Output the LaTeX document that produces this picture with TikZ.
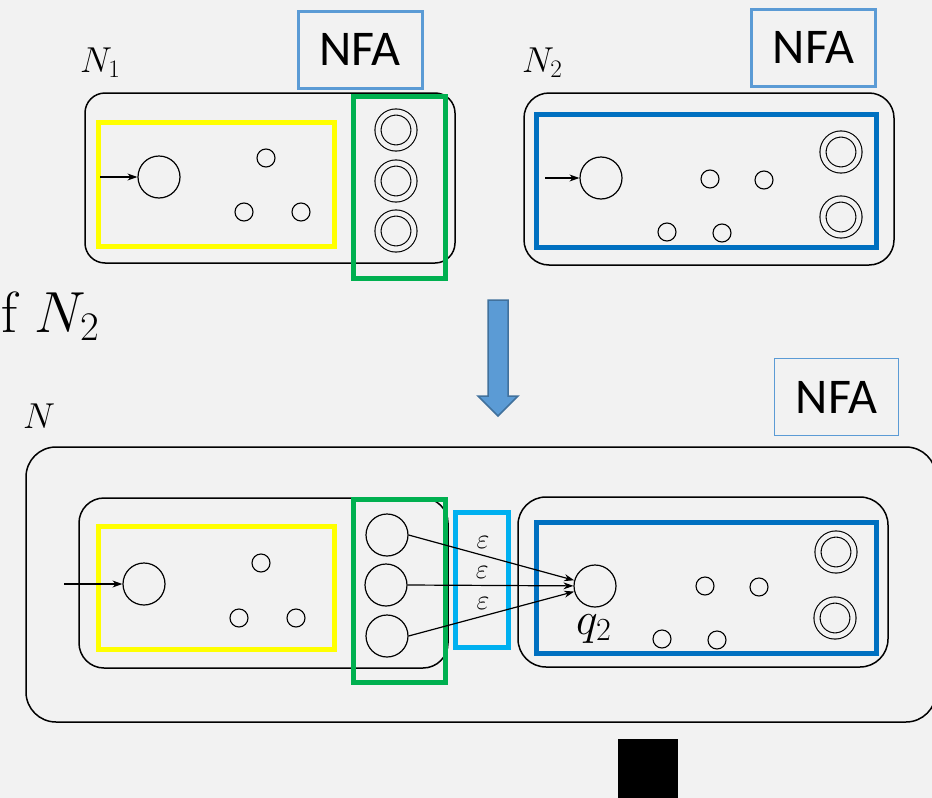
\RequirePackage{fix-cm}
\documentclass[tikz,border=0pt]{standalone}
\usepackage{fontspec}
\newfontfamily\nfafont{Carlito}
\usetikzlibrary{arrows.meta}

\definecolor{paper}{HTML}{F2F2F2}
\definecolor{nfablue}{HTML}{5B9BD5}
\definecolor{arrowedge}{HTML}{41719C}
\definecolor{partyellow}{HTML}{FFFF00}
\definecolor{partgreen}{HTML}{00B050}
\definecolor{partblue}{HTML}{0070C0}
\definecolor{partcyan}{HTML}{00B0F0}

\begin{document}
\begin{tikzpicture}[x=1pt,y=-1pt,
  every node/.style={inner sep=0pt},
  >={Stealth[length=10pt,width=7pt]}
]

\tikzstyle{bigstate}=[draw,circle,minimum size=42pt,line width=1.2pt]
\tikzstyle{smallstate}=[draw,circle,minimum size=18pt,line width=1.1pt]
\tikzstyle{finalstate}=[draw,circle,minimum size=36pt,line width=1.1pt,double=paper,double distance=5pt]
\tikzstyle{frame}=[draw,line width=1.5pt]
\tikzstyle{part}=[draw,line width=5pt]
\tikzstyle{nfabox}=[draw=nfablue,minimum width=124pt,minimum height=77pt,font=\nfafont\fontsize{50}{50}\selectfont]
\tikzstyle{trans}=[->,line width=1.2pt]
\tikzstyle{eps}=[pos=0.45,above=6pt,font=\fontsize{28}{28}\selectfont]

\useasboundingbox[fill=paper] (0,0) rectangle (932,798);

% ---- N1 ----
\node[anchor=base west,font=\fontsize{36}{36}\selectfont] (n1) at (80,72) {$N_1$};
\node[nfabox,line width=3pt] (nfa1) at (360,49.5) {NFA};
\draw[frame,rounded corners=20pt] (85,93) rectangle (455,263);
\draw[part,partyellow] (98,122) rectangle (334,246);
\node[bigstate] (s1) at (159,177) {};
\node[smallstate] (u1) at (266,158) {};
\node[smallstate] (u2) at (244,212) {};
\node[smallstate] (u3) at (301,212) {};
\node[finalstate] (f1) at (396,130) {};
\node[finalstate] (f2) at (396,181) {};
\node[finalstate] (f3) at (396,231) {};
\draw[part,partgreen] (353,96) rectangle (445,278);
\coordinate (in1) at (100,177);
\draw[trans] (in1) -- (s1);

% ---- N2 ----
\node[anchor=base west,font=\fontsize{36}{36}\selectfont] (n2) at (522,72) {$N_2$};
\node[nfabox,line width=3pt] (nfa2) at (813.5,47.5) {NFA};
\draw[frame,rounded corners=25pt] (524,93) rectangle (894,265);
\draw[part,partblue] (536,114) rectangle (876,247);
\node[bigstate] (s2) at (601,178) {};
\node[smallstate] (v1) at (710,179) {};
\node[smallstate] (v2) at (764,180) {};
\node[smallstate] (v3) at (667,232) {};
\node[smallstate] (v4) at (722,233) {};
\node[finalstate] (g1) at (841,152) {};
\node[finalstate] (g2) at (841,217) {};
\coordinate (in2) at (545,178);
\draw[trans] (in2) -- (s2);

\node[anchor=base west,font=\fontsize{58}{58}\selectfont] (of) at (1,332) {f $N_2$};

% down arrow
\draw[fill=nfablue,draw=arrowedge,line width=1.5pt]
  (488,300) -- (508,300) -- (508,396) -- (518,396) -- (498,416)
  -- (478,396) -- (488,396) -- cycle;

% ---- N ----
\node[anchor=base west,font=\fontsize{36}{36}\selectfont] (n) at (23,428) {$N$};
\node[nfabox,line width=1.5pt] (nfa3) at (836.5,397) {NFA};
\draw[frame,rounded corners=30pt] (26,447) rectangle (936,722);
\draw[frame,rounded corners=25pt] (79,498) rectangle (448,668);
\draw[frame,rounded corners=28pt] (518,497) rectangle (888,667);
\draw[part,partyellow] (98,526) rectangle (334,649);
\draw[part,partblue] (536,522) rectangle (876,653);
\draw[part,partcyan] (455,512) rectangle (508,647);

\node[bigstate] (s) at (144,584) {};
\node[smallstate] (w1) at (261,563) {};
\node[smallstate] (w2) at (239,618) {};
\node[smallstate] (w3) at (296,618) {};
\node[bigstate] (b1) at (387,535) {};
\node[bigstate] (b2) at (386,585) {};
\node[bigstate] (b3) at (387,636) {};
\draw[part,partgreen] (353,499) rectangle (445,682);

\node[bigstate] (q2) at (595,586) {};
\node[anchor=base west,font=\fontsize{46}{46}\selectfont] (q2lab) at (576,634) {$q_2$};
\node[smallstate] (x1) at (705,586) {};
\node[smallstate] (x2) at (759,587) {};
\node[smallstate] (x3) at (662,639) {};
\node[smallstate] (x4) at (717,640) {};
\node[finalstate] (h1) at (836,552) {};
\node[finalstate] (h2) at (835,618) {};

\coordinate (in3) at (64,584);
\draw[trans] (in3) -- (s);
\draw[trans] (b1.east) -- node[eps] {$\varepsilon$} (q2);
\draw[trans] (b2.east) -- node[eps] {$\varepsilon$} (q2);
\draw[trans] (b3.east) -- node[eps] {$\varepsilon$} (q2);

\fill (618,739) rectangle (678,800);
\end{tikzpicture}
\end{document}
